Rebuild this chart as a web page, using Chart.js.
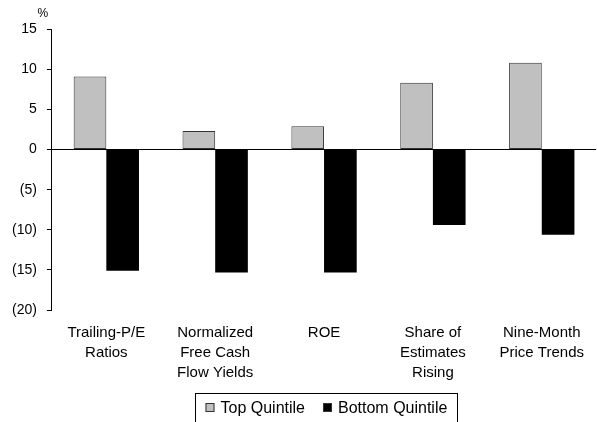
<!DOCTYPE html>
<html>
<head>
<meta charset="utf-8">
<script src="https://cdn.jsdelivr.net/npm/chart.js@4.4.0/dist/chart.umd.min.js"></script>
<style>
  html, body { margin: 0; padding: 0; background: #fff; }
  #wrap { width: 597px; height: 422px; }
</style>
</head>
<body>
<div id="wrap"><canvas id="myChart" width="597" height="422"></canvas></div>
<script>
// chart data
const categories = [
    ['Trailing-P/E', 'Ratios'],
    ['Normalized', 'Free Cash', 'Flow Yields'],
    ['ROE'],
    ['Share of', 'Estimates', 'Rising'],
    ['Nine-Month', 'Price Trends']
];
const topQuintile = [9.1, 2.3, 2.9, 8.3, 10.8];
const bottomQuintile = [-15.1, -15.3, -15.3, -9.4, -10.6];
const yTicks = [15, 10, 5, 0, -5, -10, -15, -20];

const FONT = 'Liberation Sans';

// negatives shown in brackets
function fmtTick(v) {
    return v < 0 ? '(' + Math.abs(v) + ')' : String(v);
}

// "%" label above the y axis
const percentLabel = {
    id: 'percentLabel',
    afterDraw(chart) {
        const c = chart.ctx;
        const y = chart.scales.y;
        c.save();
        c.font = '12px "' + FONT + '"';
        c.fillStyle = '#000';
        c.textAlign = 'center';
        c.textBaseline = 'bottom';
        c.fillText('%', y.right - 9, chart.chartArea.top - 9);
        c.restore();
    }
};

// boxed legend under the chart, centred on the plot area
const boxLegend = {
    id: 'boxLegend',
    afterDraw(chart) {
        const c = chart.ctx;
        const area = chart.chartArea;
        const sets = chart.data.datasets;
        c.save();
        c.font = '16px "' + FONT + '"';
        const sq = 9, gapSq = 6, gapItem = 18, padX = 10;
        let total = 0;
        sets.forEach((d, i) => {
            total += sq + gapSq + c.measureText(d.label).width;
            if (i < sets.length - 1) total += gapItem;
        });
        const boxW = Math.round(total + padX * 2);
        const cx = (area.left + area.right) / 2;
        const left = Math.round(cx - boxW / 2) + 2.5;
        const top = 393.5;
        c.strokeStyle = '#000';
        c.lineWidth = 1;
        c.strokeRect(left, top, boxW, 40);
        let x = left + padX;
        const midY = top + 14;
        sets.forEach((d) => {
            c.fillStyle = d.backgroundColor;
            c.fillRect(x, midY - sq / 2, sq, sq);
            c.strokeStyle = '#333';
            c.strokeRect(x + 0.5, midY - sq / 2 + 0.5, sq - 1, sq - 1);
            x += sq + gapSq;
            c.fillStyle = '#000';
            c.textBaseline = 'middle';
            c.fillText(d.label, x, midY + 1);
            x += c.measureText(d.label).width + gapItem;
        });
        c.restore();
    }
};

const ctx = document.getElementById('myChart').getContext('2d');
const myChart = new Chart(ctx, {
    type: 'bar',
    data: {
        labels: categories,
        datasets: [{
            label: 'Top Quintile',
            data: topQuintile,
            backgroundColor: '#c0c0c0',
            borderColor: '#333333',
            borderWidth: 1,
            borderSkipped: false
        }, {
            label: 'Bottom Quintile',
            data: bottomQuintile,
            backgroundColor: '#000000',
            borderColor: '#000000',
            borderWidth: 0
        }]
    },
    options: {
        responsive: false,
        animation: false,
        layout: {
            padding: { top: 29, right: 0, left: 2, bottom: 26 }
        },
        plugins: {
            legend: { display: false },
            tooltip: { enabled: false }
        },
        datasets: {
            bar: { categoryPercentage: 0.6, barPercentage: 1.0 }
        },
        scales: {
            x: {
                grid: { display: false, drawTicks: false },
                border: { display: false },
                ticks: {
                    color: '#000',
                    font: { family: FONT, size: 15, lineHeight: 1.33 },
                    maxRotation: 0,
                    autoSkip: false,
                    padding: 13
                }
            },
            y: {
                min: -20,
                max: 15,
                afterBuildTicks(axis) {
                    axis.ticks = yTicks.map(v => ({ value: v }));
                },
                grid: {
                    drawOnChartArea: true,
                    color: (c) => (c.tick && c.tick.value === 0) ? '#000' : 'rgba(0,0,0,0)',
                    tickColor: '#000',
                    tickLength: 5,
                    lineWidth: 1
                },
                border: { display: true, color: '#000', width: 1 },
                ticks: {
                    color: '#000',
                    font: { family: FONT, size: 14 },
                    padding: 10,
                    callback: (v) => fmtTick(v)
                }
            }
        }
    },
    plugins: [percentLabel, boxLegend]
});
</script>
</body>
</html>
